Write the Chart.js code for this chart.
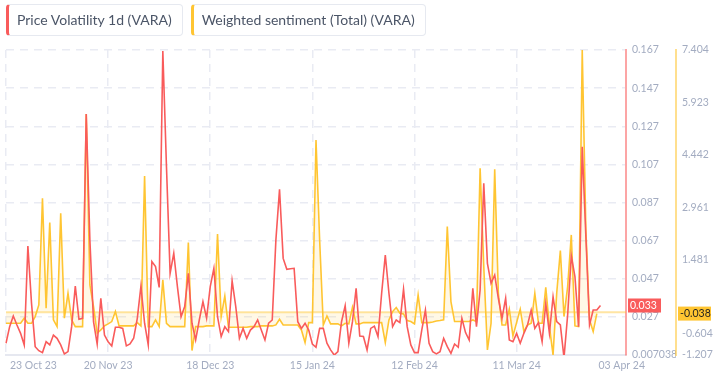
<!DOCTYPE html>
<html>
<head>
<meta charset="utf-8">
<script src="https://cdn.jsdelivr.net/npm/chart.js@4.4.1/dist/chart.umd.min.js"></script>
<style>
  body { margin: 0; background: #fff; font-family: Lato, "Open Sans", sans-serif; }
  #wrap { position: relative; width: 720px; height: 379px; }
  .legend { position: absolute; top: 4px; left: 6px; display: flex; gap: 8px; }
  .item { height: 32px; line-height: 30px; border: 1px solid #e6e9f0; border-left: 3px solid; border-radius: 4px;
          padding: 0 10px 0 8px; font-size: 14px; color: #4b5567; box-sizing: border-box; white-space: nowrap; }
</style>
</head>
<body>
<div id="wrap">
  <canvas id="myChart" width="720" height="379"></canvas>
  <div class="legend">
    <div class="item" style="border-left-color:#f95b5b">Price Volatility 1d (VARA)</div>
    <div class="item" style="border-left-color:#ffc532">Weighted sentiment (Total) (VARA)</div>
  </div>
</div>
<script>
var startDate = new Date(2023, 9, 23);
var dayCount = 171;

var tickLabels = ['23 Oct 23', '20 Nov 23', '18 Dec 23', '15 Jan 24', '12 Feb 24', '11 Mar 24', '03 Apr 24'];
var volTicks = [0.167, 0.147, 0.127, 0.107, 0.087, 0.067, 0.047, 0.027, 0.007038];
var sentTicks = [7.404, 5.923, 4.442, 2.961, 1.481, -0.604, -1.207];

var volatility = [
  0.0132, 0.0219, 0.0275, 0.0228, 0.0184, 0.0123, 0.0642, 0.0341, 0.0114, 0.0093,
  0.0083, 0.0140, 0.0123, 0.0175, 0.0158, 0.0123, 0.0076, 0.0088, 0.0219, 0.0432,
  0.0258, 0.0263, 0.1334, 0.0673, 0.0245, 0.0128, 0.0368, 0.0175, 0.0140, 0.0118,
  0.0216, 0.0216, 0.0210, 0.0118, 0.0128, 0.0158, 0.0263, 0.0432, 0.0237, 0.0123,
  0.0560, 0.0534, 0.0425, 0.1665, 0.1058, 0.0499, 0.0604, 0.0429, 0.0271, 0.0324,
  0.0499, 0.0237, 0.0149, 0.0254, 0.0350, 0.0263, 0.0429, 0.0525, 0.0271, 0.0167,
  0.0219, 0.0193, 0.0460, 0.0324, 0.0158, 0.0210, 0.0158, 0.0201, 0.0219, 0.0254,
  0.0201, 0.0149, 0.0237, 0.0254, 0.0673, 0.0939, 0.0577, 0.0520, 0.0523, 0.0525,
  0.0245, 0.0210, 0.0237, 0.0201, 0.0128, 0.0111, 0.0210, 0.0210, 0.0132, 0.0097,
  0.0070, 0.0088, 0.0245, 0.0329, 0.0132, 0.0245, 0.0420, 0.0170, 0.0167, 0.0097,
  0.0210, 0.0222, 0.0167, 0.0394, 0.0595, 0.0394, 0.0219, 0.0254, 0.0240, 0.0415,
  0.0219, 0.0123, 0.0083, 0.0083, 0.0201, 0.0306, 0.0132, 0.0088, 0.0076, 0.0088,
  0.0158, 0.0114, 0.0079, 0.0128, 0.0111, 0.0263, 0.0188, 0.0149, 0.0420, 0.0219,
  0.0411, 0.0971, 0.0551, 0.0446, 0.0490, 0.0368, 0.0263, 0.0368, 0.0149, 0.0140,
  0.0184, 0.0132, 0.0184, 0.0228, 0.0306, 0.0210, 0.0240, 0.0140, 0.0341, 0.0184,
  0.0376, 0.0245, 0.0228, 0.0056, 0.0280, 0.0590, 0.0481, 0.0219, 0.1163, 0.0691,
  0.0228, 0.0306, 0.0306, 0.0330
];

var sentiment = [
  -0.311, -0.311, -0.311, -0.311, -0.311, -0.169, -0.311, -0.311, -0.122, 0.207,
  3.218, 0.113, 2.531, -0.216, -0.405, 2.795, -0.169, 0.536, -0.216, -0.405,
  -0.405, -0.405, 5.599, 0.772, 0.160, -0.593, -0.499, -0.386, -0.329, -0.263,
  0.019, -0.386, -0.386, -0.386, -0.386, -0.386, -0.292, -0.386, 3.849, -0.405,
  -0.405, -0.216, -0.405, 0.913, -0.311, -0.405, -0.405, -0.405, -0.405, -0.405,
  1.967, -1.082, -0.405, -0.405, -0.405, -0.386, -0.386, -0.386, 2.211, -0.122,
  0.461, -0.423, -0.423, -0.423, -0.423, -0.423, -0.423, -0.405, -0.405, -0.405,
  -0.386, -0.386, -0.386, -0.386, -0.358, -0.198, -0.358, -0.358, -0.358, -0.358,
  -0.358, -0.499, -0.856, -0.292, -0.292, 4.865, 2.042, -0.358, -0.104, -0.329,
  -0.329, -0.329, -0.386, -0.311, -0.329, 0.141, -0.329, -0.329, -0.292, -0.292,
  -0.292, -0.292, -0.292, -0.292, -0.856, -0.216, 0.019, 0.132, -0.028, -0.047,
  -0.235, -0.263, -0.329, 0.489, -0.292, -0.292, -0.292, -0.273, -0.245, -0.235,
  -0.216, 2.418, 0.301, -0.263, -0.263, -0.263, -0.263, -0.263, -0.216, -0.263,
  4.065, 1.289, -1.063, -0.311, 4.037, 0.536, -0.358, -0.358, 0.085, -0.668,
  -0.292, 0.085, -0.546, -0.358, -0.311, 0.536, -0.311, -0.311, 0.706, -0.405,
  -1.204, 0.536, 1.741, -0.122, 0.725, 2.183, -0.386, -0.405, 7.404, 2.324,
  -0.216, -0.546, -0.038
];

var months = ['Jan', 'Feb', 'Mar', 'Apr', 'May', 'Jun', 'Jul', 'Aug', 'Sep', 'Oct', 'Nov', 'Dec'];
function fmtDate(d) {
    var dd = ('0' + d.getDate()).slice(-2);
    return dd + ' ' + months[d.getMonth()] + ' ' + String(d.getFullYear()).slice(-2);
}

var days = [];
for (var i = 0; i < dayCount; i++) {
    var d = new Date(startDate);
    d.setDate(d.getDate() + i);
    days.push(fmtDate(d));
}
var tickIdx = tickLabels.map(l => days.indexOf(l));

var RED = '#f95b5b';
var YELLOW = '#ffc532';
var TICK_COLOR = '#a3acc1';
var GRID_COLOR = '#e9ebf3';
var FONT = 'Lato, "Open Sans", sans-serif';

// zero line, x labels and last value badges
var extras = {
    id: 'extras',
    beforeDatasetsDraw(chart) {
        var ctx = chart.ctx, a = chart.chartArea;
        var y0 = chart.scales.ySent.getPixelForValue(0);
        ctx.save();
        ctx.strokeStyle = 'rgba(255,197,50,0.45)';
        ctx.lineWidth = 2;
        ctx.beginPath();
        ctx.moveTo(a.left, y0);
        ctx.lineTo(a.right, y0);
        ctx.stroke();
        ctx.restore();
    },
    afterDraw(chart) {
        var ctx = chart.ctx, a = chart.chartArea;
        var xs = chart.scales.x;
        ctx.save();
        ctx.font = '10.5px ' + FONT;
        ctx.fillStyle = TICK_COLOR;
        ctx.textBaseline = 'middle';
        tickIdx.forEach((idx, k) => {
            var px = xs.getPixelForValue(idx);
            if (k === 0) { ctx.textAlign = 'left'; px += 4; }
            else if (k === tickIdx.length - 1) { ctx.textAlign = 'left'; px -= 2; }
            else ctx.textAlign = 'center';
            ctx.fillText(tickLabels[k], px, a.bottom + 11);
        });

        function badge(scale, value, bg, fg) {
            var y = scale.getPixelForValue(value);
            var x = scale.left + 2;
            ctx.fillStyle = bg;
            ctx.fillRect(x, y - 7, 33, 14);
            ctx.fillStyle = fg;
            ctx.textAlign = 'left';
            ctx.font = '10.5px ' + FONT;
            ctx.fillText(value.toFixed(3), x + 2, y + 0.5);
        }
        badge(chart.scales.yVol, volatility[volatility.length - 1], RED, '#ffffff');
        badge(chart.scales.ySent, sentiment[sentiment.length - 1], YELLOW, '#1f1f1f');
        ctx.restore();
    }
};

var ctx = document.getElementById('myChart').getContext('2d');
var myChart = new Chart(ctx, {
    type: 'line',
    data: {
        labels: days,
        datasets: [{
            label: 'Price Volatility 1d (VARA)',
            data: volatility,
            yAxisID: 'yVol',
            borderColor: RED,
            borderWidth: 1.6,
            pointRadius: 0,
            tension: 0,
            fill: false
        }, {
            label: 'Weighted sentiment (Total) (VARA)',
            data: sentiment,
            yAxisID: 'ySent',
            borderColor: YELLOW,
            borderWidth: 1.6,
            pointRadius: 0,
            tension: 0,
            fill: { target: 'origin', above: 'rgba(255,197,50,0.12)', below: 'rgba(255,197,50,0.12)' }
        }]
    },
    plugins: [extras],
    options: {
        responsive: false,
        animation: false,
        layout: { padding: { left: 6, top: 50, right: 0, bottom: 0 } },
        plugins: { legend: { display: false }, tooltip: { enabled: false } },
        scales: {
            x: {
                type: 'category',
                offset: false,
                afterBuildTicks: function (scale) {
                    scale.ticks = tickIdx.map(v => ({ value: v }));
                },
                afterFit: function (scale) { scale.height = 24; },
                ticks: { display: false, autoSkip: false },
                grid: {
                    drawTicks: false,
                    color: c => c.index === tickIdx.length - 1 ? 'rgba(0,0,0,0)' : GRID_COLOR,
                    lineWidth: 1.5
                },
                border: { display: true, color: '#e6e8f0', width: 2, dash: [8, 6] }
            },
            yVol: {
                type: 'linear',
                position: 'right',
                min: volTicks[volTicks.length - 1],
                max: volTicks[0],
                afterBuildTicks: function (scale) {
                    scale.ticks = volTicks.map(v => ({ value: v }));
                },
                afterFit: function (scale) { scale.width = 50; },
                ticks: {
                    color: TICK_COLOR,
                    padding: 6,
                    font: { family: FONT, size: 10.5 },
                    callback: v => String(v)
                },
                grid: {
                    drawTicks: false,
                    color: c => c.tick && c.tick.value === volTicks[volTicks.length - 1] ? 'rgba(0,0,0,0)' : GRID_COLOR,
                    lineWidth: 1.5
                },
                border: { display: true, color: 'rgba(249,91,91,0.55)', width: 2, dash: [8, 6] }
            },
            ySent: {
                type: 'linear',
                position: 'right',
                min: sentTicks[sentTicks.length - 1],
                max: sentTicks[0],
                afterBuildTicks: function (scale) {
                    scale.ticks = sentTicks.map(v => ({ value: v }));
                },
                afterFit: function (scale) { scale.width = 44; },
                ticks: {
                    color: TICK_COLOR,
                    padding: 6,
                    font: { family: FONT, size: 10.5 },
                    callback: v => String(v)
                },
                grid: { display: false, drawTicks: false },
                border: { display: true, color: 'rgba(255,197,50,0.55)', width: 2 }
            }
        }
    }
});
</script>
</body>
</html>
